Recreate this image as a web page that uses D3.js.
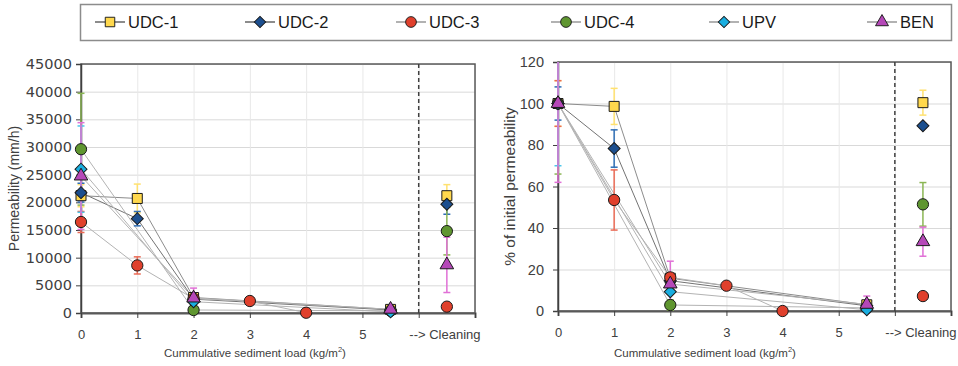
<!DOCTYPE html>
<html>
<head>
<meta charset="utf-8">
<script src="https://cdn.jsdelivr.net/npm/d3@7"></script>
<style>
  body { margin: 0; background: #fff; }
  svg { display: block; font-family: "Liberation Sans", Arial, sans-serif; }
  .grid line { stroke: #d9d9d9; }
  .grid path { display: none; }
  .vgrid line { stroke: #e8e8e8; }
  .vgrid path { display: none; }
</style>
</head>
<body>
<div id="chart"></div>
<script>
// series and load steps (kg/m2); null = not measured at that step
const series = ["UDC-1", "UDC-2", "UDC-3", "UDC-4", "UPV", "BEN"];
const loadSteps = [0, 1, 2, 3, 4, 5.5];

// permeability (mm/h)
const permMean = [
    [21200, 20700, 2800, null, null, 650],
    [21750, 17050, 2500, null, null, 550],
    [16450, 8600, 2600, 2170, 50, null],
    [29600, null, 540, null, null, 400],
    [26000, null, 2040, null, null, 200],
    [24750, null, 2700, null, null, 670]
];
const permErr = [
    [2000, 2600, 400, null, null, 100],
    [1700, 1300, 400, null, null, 100],
    [1900, 1550, 400, 200, 50, null],
    [10100, null, 300, null, null, 100],
    [7800, null, 1600, null, null, 100],
    [9650, null, 1800, null, null, 300]
];
const permClean = [21200, 19650, 1150, 14800, null, 8700];
const permCleanErr = [2000, 1800, 100, 4300, null, 5000];

// % of initial permeability
const pctMean = [
    [100, 98.6, 15.8, null, null, 3.0],
    [100, 78.3, 14.6, null, null, 2.5],
    [100, 53.5, 16.2, 12.2, 0, null],
    [100, null, 2.9, null, null, 1.5],
    [100, null, 9.3, null, null, 0.6],
    [100, null, 13.0, null, null, 3.2]
];
const pctErr = [
    [11, 8.7, 2, null, null, 1],
    [8, 9, 2, null, null, 1],
    [11, 14.5, 2, 1, 0.3, null],
    [34, null, 2.5, null, null, 1],
    [30, null, 8, null, null, 1],
    [38, null, 11, null, null, 4]
];
const pctClean = [100.4, 89.3, 7.2, 51.4, null, 33.4];
const pctCleanErr = [6, 1, 0.5, 10.5, null, 7];

const xTickPos = [0, 1, 2, 3, 4, 5, 6.5];
const xTickLabels = ["0", "1", "2", "3", "4", "5", "--> Cleaning"];
const cleaningX = 6.5;
const dividerX = 6;

const fillColors = ["#ffd84d", "#1c4f8f", "#e0402c", "#5f9630", "#19aee0", "#b548b8"];
const barColors = ["#ffe170", "#2e6db4", "#ea6a55", "#8bb654", "#4cc6ea", "#e070d6"];
const lineColors = ["#8c8c8c", "#737373", "#b3b3b3", "#b3b3b3", "#b3b3b3", "#b3b3b3"];

const width = 958, height = 366;

const svg = d3.select("#chart")
    .append("svg")
    .attr("width", width)
    .attr("height", height);

function markerPath(i) {
    if (i === 0) return d3.symbol().type(d3.symbolSquare).size(100)();
    if (i === 1 || i === 4) return d3.symbol().type(d3.symbolSquare).size(72)();
    if (i === 5) return d3.symbol().type(d3.symbolTriangle).size(80)();
    return d3.symbol().type(d3.symbolCircle).size(100)();
}
function markerRot(i) {
    return (i === 1 || i === 4) ? " rotate(45)" : "";
}

function drawPanel(cfg, idx) {
    const x = d3.scaleLinear().domain([0, 7]).range([cfg.left, cfg.right]);
    const y = d3.scaleLinear().domain([0, cfg.yMax]).range([cfg.bottom, cfg.top]);
    const yTicks = d3.range(0, cfg.yMax + 1, cfg.yStep);
    const g = svg.append("g");

    // horizontal grid
    g.append("g")
        .attr("class", "grid")
        .attr("transform", `translate(${cfg.left},0)`)
        .call(d3.axisLeft(y).tickValues(yTicks).tickSize(-(cfg.right - cfg.left)).tickFormat(""));

    // vertical grid
    g.append("g")
        .attr("class", "vgrid")
        .attr("transform", `translate(0,${cfg.bottom})`)
        .call(d3.axisBottom(x).tickValues(d3.range(1, 8)).tickSize(-(cfg.bottom - cfg.top)).tickFormat(""));

    // frame
    g.append("rect")
        .attr("x", cfg.left).attr("y", cfg.top)
        .attr("width", cfg.right - cfg.left).attr("height", cfg.bottom - cfg.top)
        .attr("fill", "none").attr("stroke", "#595959").attr("stroke-width", 1.5);

    // y axis
    const ya = g.append("g")
        .attr("transform", `translate(${cfg.left},0)`)
        .call(d3.axisLeft(y).tickValues(yTicks).tickSize(5).tickPadding(cfg.yPad).tickFormat(d3.format("d")));
    ya.select(".domain").attr("stroke", "#404040").attr("stroke-width", 1.5);
    ya.selectAll(".tick line").attr("stroke", "#404040");
    ya.selectAll("text").attr("font-size", 14.5).attr("fill", "#404040")
        .attr("font-family", cfg.yFont);

    // x axis tick marks
    const xa = g.append("g")
        .attr("transform", `translate(0,${cfg.bottom})`)
        .call(d3.axisBottom(x).tickValues(d3.range(0, 8)).tickSize(5).tickFormat(""));
    xa.select(".domain").attr("stroke", "#595959").attr("stroke-width", 2);
    xa.selectAll(".tick line").attr("stroke", "#404040");

    // x axis labels
    const xl = g.append("g")
        .attr("transform", `translate(0,${cfg.bottom})`)
        .call(d3.axisBottom(x).tickValues(xTickPos).tickSize(0).tickPadding(17)
            .tickFormat((d, i) => xTickLabels[i]));
    xl.select(".domain").remove();
    xl.selectAll("text").attr("font-size", 13).attr("fill", "#404040");
    xl.selectAll(".tick:last-of-type text").attr("text-anchor", "end")
        .attr("x", cfg.right + 5 - x(cleaningX));

    // divider before cleaning
    g.append("line")
        .attr("x1", x(dividerX)).attr("x2", x(dividerX))
        .attr("y1", cfg.top).attr("y2", cfg.bottom)
        .attr("stroke", "#404040").attr("stroke-width", 1.5)
        .attr("stroke-dasharray", "4,3");

    // titles
    g.append("text")
        .attr("transform", `translate(${cfg.yLabelX},${(cfg.top + cfg.bottom) / 2}) rotate(-90)`)
        .attr("text-anchor", "middle")
        .attr("font-size", cfg.yLabelSize)
        .attr("fill", "#404040")
        .text(cfg.yLabel);

    const xt = g.append("text")
        .attr("x", cfg.titleX).attr("y", 357)
        .attr("text-anchor", "middle")
        .attr("font-size", 11.5)
        .attr("fill", "#404040");
    xt.append("tspan").text("Cummulative sediment load (kg/m");
    xt.append("tspan").attr("font-size", 7.5).attr("dy", -5).text("2");
    xt.append("tspan").attr("dy", 5).text(")");

    // clip for error bars
    const clipId = "clip" + idx;
    svg.append("clipPath").attr("id", clipId)
        .append("rect")
        .attr("x", cfg.left - 10).attr("y", cfg.top)
        .attr("width", cfg.right - cfg.left + 20).attr("height", cfg.bottom - cfg.top + 10);

    // connecting lines
    const line = d3.line().x(d => x(d[0])).y(d => y(d[1]));
    series.forEach((s, i) => {
        const pts = loadSteps.map((l, j) => [l, cfg.mean[i][j]]).filter(d => d[1] != null);
        g.append("path")
            .datum(pts)
            .attr("fill", "none")
            .attr("stroke", lineColors[i])
            .attr("stroke-width", 1)
            .attr("d", line);
    });

    // error bars
    const eb = g.append("g").attr("clip-path", `url(#${clipId})`);
    function errBar(xv, m, e, i) {
        if (m == null || e == null) return;
        const c = barColors[i];
        eb.append("line")
            .attr("x1", x(xv)).attr("x2", x(xv))
            .attr("y1", y(m - e)).attr("y2", y(m + e))
            .attr("stroke", c).attr("stroke-width", 1.5);
        [m - e, m + e].forEach(v => {
            eb.append("line")
                .attr("x1", x(xv) - 3.5).attr("x2", x(xv) + 3.5)
                .attr("y1", y(v)).attr("y2", y(v))
                .attr("stroke", c).attr("stroke-width", 1.5);
        });
    }
    series.forEach((s, i) => {
        loadSteps.forEach((l, j) => errBar(l, cfg.mean[i][j], cfg.err[i][j], i));
        errBar(cleaningX, cfg.clean[i], cfg.cleanErr[i], i);
    });

    // markers
    series.forEach((s, i) => {
        const pts = loadSteps.map((l, j) => [l, cfg.mean[i][j]]).filter(d => d[1] != null);
        if (cfg.clean[i] != null) pts.push([cleaningX, cfg.clean[i]]);
        g.append("g")
            .selectAll("path")
            .data(pts)
            .join("path")
            .attr("d", markerPath(i))
            .attr("transform", d => `translate(${x(d[0])},${y(d[1])})${markerRot(i)}`)
            .attr("fill", fillColors[i])
            .attr("stroke", "#1a1a1a")
            .attr("stroke-width", 1);
    });
}

drawPanel({
    left: 81, right: 475, top: 64, bottom: 313,
    yMax: 45000, yStep: 5000, yPad: 4, yFont: "'DejaVu Sans', sans-serif",
    mean: permMean, err: permErr, clean: permClean, cleanErr: permCleanErr,
    yLabel: "Permeability (mm/h)", yLabelX: 19, yLabelSize: 14, titleX: 255
}, 0);

drawPanel({
    left: 558, right: 951, top: 62, bottom: 311,
    yMax: 120, yStep: 20, yPad: 9, yFont: "'Liberation Sans', sans-serif",
    mean: pctMean, err: pctErr, clean: pctClean, cleanErr: pctCleanErr,
    yLabel: "% of initial permeability", yLabelX: 515, yLabelSize: 15.5, titleX: 705
}, 1);

// legend
const legend = svg.append("g");
legend.append("rect")
    .attr("x", 80.5).attr("y", 4.5).attr("width", 871).attr("height", 36)
    .attr("fill", "#fff").attr("stroke", "#8c8c8c").attr("stroke-width", 1.5);
const legendX = [110, 260, 411, 566, 724, 882];
series.forEach((s, i) => {
    const lg = legend.append("g").attr("transform", `translate(${legendX[i]},22)`);
    lg.append("line").attr("x1", -15).attr("x2", 15)
        .attr("stroke", lineColors[i] === "#b3b3b3" ? "#7f7f7f" : "#404040").attr("stroke-width", 1.2);
    lg.append("path").attr("d", markerPath(i))
        .attr("transform", "scale(0.95)" + markerRot(i))
        .attr("fill", fillColors[i]).attr("stroke", "#1a1a1a");
    lg.append("text").attr("x", 18).attr("y", 6)
        .attr("font-size", 16.5)
        .attr("fill", "#1a1a1a")
        .text(s);
});
</script>
</body>
</html>
